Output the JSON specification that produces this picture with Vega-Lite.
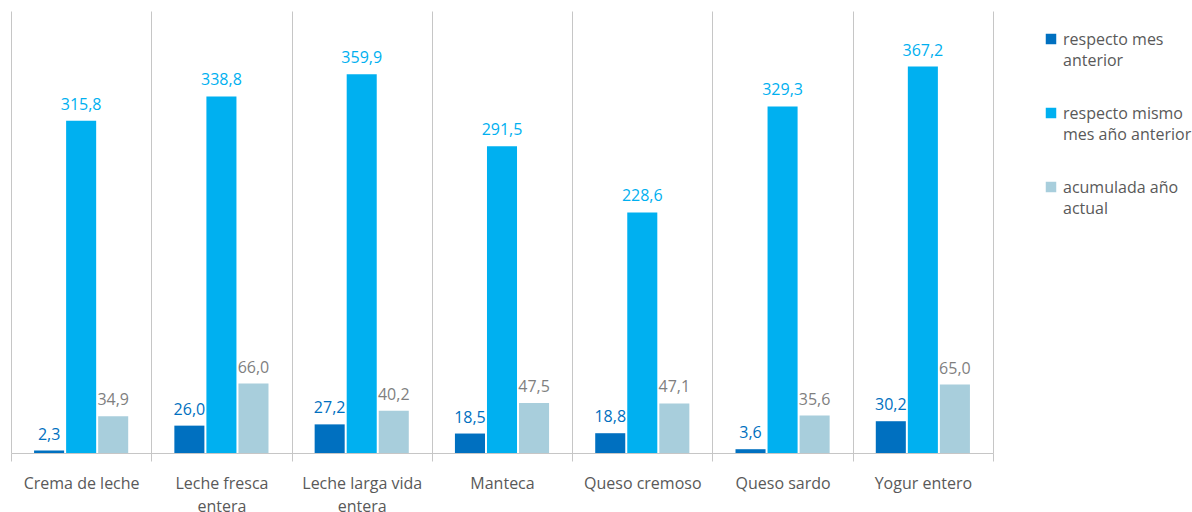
{
  "$schema": "https://vega.github.io/schema/vega-lite/v6.json",
  "width": 982,
  "height": 442,
  "padding": {"left": 10, "top": 11, "right": 0, "bottom": 0},
  "background": "white",
  "config": {
    "font": "Open Sans",
    "view": {"stroke": null},
    "locale": {"number": {"decimal": ",", "thousands": ".", "grouping": [3], "currency": ["$", ""]}}
  },
  "data": {
    "values": [
      {"producto": "Crema de leche", "serie": "respecto mes anterior", "valor": 2.3},
      {"producto": "Crema de leche", "serie": "respecto mismo mes año anterior", "valor": 315.8},
      {"producto": "Crema de leche", "serie": "acumulada año actual", "valor": 34.9},
      {"producto": "Leche fresca entera", "serie": "respecto mes anterior", "valor": 26.0},
      {"producto": "Leche fresca entera", "serie": "respecto mismo mes año anterior", "valor": 338.8},
      {"producto": "Leche fresca entera", "serie": "acumulada año actual", "valor": 66.0},
      {"producto": "Leche larga vida entera", "serie": "respecto mes anterior", "valor": 27.2},
      {"producto": "Leche larga vida entera", "serie": "respecto mismo mes año anterior", "valor": 359.9},
      {"producto": "Leche larga vida entera", "serie": "acumulada año actual", "valor": 40.2},
      {"producto": "Manteca", "serie": "respecto mes anterior", "valor": 18.5},
      {"producto": "Manteca", "serie": "respecto mismo mes año anterior", "valor": 291.5},
      {"producto": "Manteca", "serie": "acumulada año actual", "valor": 47.5},
      {"producto": "Queso cremoso", "serie": "respecto mes anterior", "valor": 18.8},
      {"producto": "Queso cremoso", "serie": "respecto mismo mes año anterior", "valor": 228.6},
      {"producto": "Queso cremoso", "serie": "acumulada año actual", "valor": 47.1},
      {"producto": "Queso sardo", "serie": "respecto mes anterior", "valor": 3.6},
      {"producto": "Queso sardo", "serie": "respecto mismo mes año anterior", "valor": 329.3},
      {"producto": "Queso sardo", "serie": "acumulada año actual", "valor": 35.6},
      {"producto": "Yogur entero", "serie": "respecto mes anterior", "valor": 30.2},
      {"producto": "Yogur entero", "serie": "respecto mismo mes año anterior", "valor": 367.2},
      {"producto": "Yogur entero", "serie": "acumulada año actual", "valor": 65.0}
    ]
  },
  "encoding": {
    "x": {
      "field": "producto",
      "type": "nominal",
      "sort": null,
      "scale": {"paddingInner": 0, "paddingOuter": 0},
      "axis": {
        "title": null,
        "labelAngle": 0,
        "tickBand": "extent",
        "grid": true,
        "gridColor": "#C6C6C6",
        "gridWidth": 1,
        "domainColor": "#C6C6C6",
        "tickColor": "#C6C6C6",
        "tickSize": 8,
        "labelPadding": 14,
        "labelFontSize": 16,
        "labelColor": "#595959",
        "labelLineHeight": 23,
        "labelBaseline": "top",
        "labelExpr": "datum.label == 'Leche fresca entera' ? ['Leche fresca', 'entera'] : datum.label == 'Leche larga vida entera' ? ['Leche larga vida', 'entera'] : datum.label"
      }
    },
    "xOffset": {
      "field": "serie",
      "type": "nominal",
      "sort": ["respecto mes anterior", "respecto mismo mes año anterior", "acumulada año actual"],
      "scale": {"paddingInner": 0.0625, "paddingOuter": 0.72}
    },
    "y": {
      "field": "valor",
      "type": "quantitative",
      "scale": {"domain": [0, 420], "nice": false},
      "axis": null
    }
  },
  "layer": [
    {
      "mark": {"type": "bar"},
      "encoding": {
        "color": {
          "field": "serie",
          "type": "nominal",
          "sort": ["respecto mes anterior", "respecto mismo mes año anterior", "acumulada año actual"],
          "scale": {
            "domain": ["respecto mes anterior", "respecto mismo mes año anterior", "acumulada año actual"],
            "range": ["#0070C0", "#00B0F0", "#A8CEDC"]
          },
          "legend": {
            "title": null,
            "orient": "right",
            "offset": 30,
            "padding": 20,
            "symbolType": "square",
            "symbolSize": 110,
            "symbolStrokeWidth": 0,
            "labelFontSize": 16,
            "labelColor": "#595959",
            "labelLimit": 300,
            "labelOffset": 4,
            "labelBaseline": "alphabetic",
            "rowPadding": 36,
            "encode": {
              "labels": {
                "update": {
                  "lineHeight": {"value": 21},
                  "dy": {"value": 6}
                }
              }
            },
            "labelExpr": "datum.label == 'respecto mes anterior' ? ['respecto mes', 'anterior'] : datum.label == 'respecto mismo mes año anterior' ? ['respecto mismo', 'mes año anterior'] : ['acumulada año', 'actual']"
          }
        }
      }
    },
    {
      "mark": {"type": "text", "baseline": "alphabetic", "dy": -11, "fontSize": 16},
      "encoding": {
        "text": {"field": "valor", "type": "quantitative", "format": ".1f"},
        "color": {
          "condition": [
            {"test": "datum.serie == 'respecto mes anterior'", "value": "#0070C0"},
            {"test": "datum.serie == 'respecto mismo mes año anterior'", "value": "#00B0F0"}
          ],
          "value": "#7F7F7F"
        }
      }
    }
  ]
}
